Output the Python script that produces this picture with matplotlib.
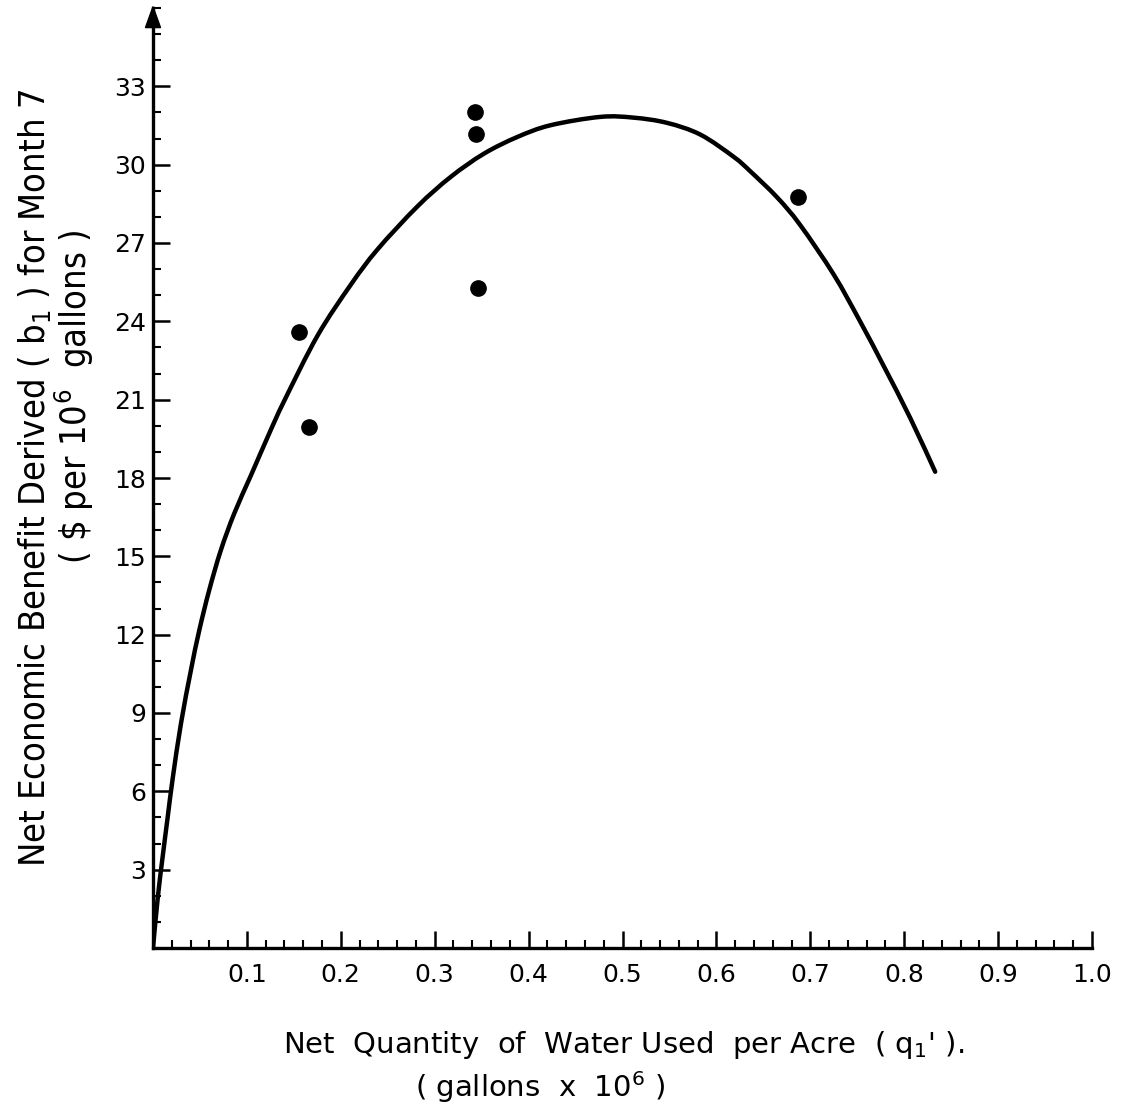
import matplotlib
matplotlib.use("Agg")
import matplotlib.pyplot as plt
from matplotlib.patches import Polygon, PathPatch
from matplotlib.path import Path
from matplotlib.ticker import MultipleLocator, FixedLocator, FixedFormatter

# ---- data ----
obs_x = [0.1556, 0.1663, 0.3426, 0.3440, 0.3465, 0.6870]
obs_y = [23.6, 19.96, 32.0, 31.16, 25.26, 28.76]

curve_x = [0.0, 0.005, 0.0103, 0.0156, 0.021, 0.0298, 0.0404, 0.0493, 0.0599,
           0.0723, 0.0865, 0.1043, 0.1237, 0.1397, 0.1752, 0.2106, 0.239,
           0.2816, 0.317, 0.3524, 0.388, 0.4234, 0.4766, 0.512, 0.5475,
           0.583, 0.6184, 0.636, 0.6646, 0.689, 0.7248, 0.753, 0.778,
           0.8064, 0.833]
curve_y = [0.0, 1.9, 3.5, 5.0, 6.5, 8.6, 10.64, 12.17, 13.71,
           15.24, 16.64, 18.1, 19.7, 20.95, 23.45, 25.4, 26.75,
           28.4, 29.53, 30.42, 31.06, 31.51, 31.83, 31.80, 31.6,
           31.15, 30.3, 29.75, 28.75, 27.7, 25.8, 24.0, 22.3,
           20.3, 18.24]

x_ticks = [0.1, 0.2, 0.3, 0.4, 0.5, 0.6, 0.7, 0.8, 0.9, 1.0]
x_tick_labels = ["0.1", "0.2", "0.3", "0.4", "0.5", "0.6", "0.7", "0.8", "0.9", "1.0"]
y_ticks = [3, 6, 9, 12, 15, 18, 21, 24, 27, 30, 33]
y_tick_labels = ["3", "6", "9", "12", "15", "18", "21", "24", "27", "30", "33"]

W, H = 1123, 1113
fig = plt.figure(figsize=(W / 100, H / 100), dpi=100)
left, right, bottom, top = 153, 1092, 948, 8
ax = fig.add_axes([left / W, (H - bottom) / H, (right - left) / W, (bottom - top) / H])
ax.set_xlim(0, 1.0)
ax.set_ylim(0, 36.0)


def smooth_path(xs, ys):
    """Catmull-Rom style bezier path passing through the read points (rendering only)."""
    pts = list(zip(xs, ys))
    verts = [pts[0]]
    codes = [Path.MOVETO]
    n = len(pts)
    for i in range(n - 1):
        p0 = pts[i - 1] if i > 0 else pts[i]
        p1 = pts[i]
        p2 = pts[i + 1]
        p3 = pts[i + 2] if i + 2 < n else pts[i + 1]
        c1 = (p1[0] + (p2[0] - p0[0]) / 6.0, p1[1] + (p2[1] - p0[1]) / 6.0)
        c2 = (p2[0] - (p3[0] - p1[0]) / 6.0, p2[1] - (p3[1] - p1[1]) / 6.0)
        verts += [c1, c2, p2]
        codes += [Path.CURVE4, Path.CURVE4, Path.CURVE4]
    return Path(verts, codes)


ax.add_patch(PathPatch(smooth_path(curve_x, curve_y), facecolor="none",
                       edgecolor="black", lw=3.2, capstyle="round", zorder=3))
ax.plot(obs_x, obs_y, "o", color="black", ms=11, zorder=4)

for s in ("top", "right"):
    ax.spines[s].set_visible(False)
for s in ("left", "bottom"):
    ax.spines[s].set_linewidth(2.4)

# arrow head on the y axis
tri = Polygon([(-0.008, 35.25), (0.008, 35.25), (0.0, 36.05)], closed=True,
              color="black", clip_on=False, zorder=5)
ax.add_patch(tri)

ax.xaxis.set_major_locator(FixedLocator(x_ticks))
ax.xaxis.set_major_formatter(FixedFormatter(x_tick_labels))
ax.xaxis.set_minor_locator(MultipleLocator(0.02))
ax.yaxis.set_major_locator(FixedLocator(y_ticks))
ax.yaxis.set_major_formatter(FixedFormatter(y_tick_labels))
ax.yaxis.set_minor_locator(MultipleLocator(1))

ax.tick_params(which="major", direction="in", length=12, width=1.8, labelsize=18, pad=11)
ax.tick_params(which="minor", direction="in", length=6, width=1.5)
ax.tick_params(axis="y", which="major", pad=5)
for lab in ax.get_xticklabels() + ax.get_yticklabels():
    lab.set_family("DejaVu Sans")

fig.text(35 / W, 1 - 478 / H,
         "Net Economic Benefit Derived ( b$_\\mathregular{1}$ ) for Month 7",
         rotation=90, ha="center", va="center", fontsize=26,
         family="DejaVu Sans", stretch="condensed")
fig.text(74 / W, 1 - 397 / H,
         "( \\$ per 10$^\\mathregular{6}$  gallons )",
         rotation=90, ha="center", va="center", fontsize=26,
         family="DejaVu Sans", stretch="condensed")

fig.text(624 / W, 1 - 1045 / H,
         "Net  Quantity  of  Water Used  per Acre  ( q$_\\mathregular{1}$' ).",
         ha="center", va="center", fontsize=21, family="DejaVu Sans")
fig.text(540 / W, 1 - 1087 / H,
         "( gallons  x  10$^\\mathregular{6}$ )",
         ha="center", va="center", fontsize=21, family="DejaVu Sans")

fig.savefig("out.png", dpi=100, facecolor="white")
